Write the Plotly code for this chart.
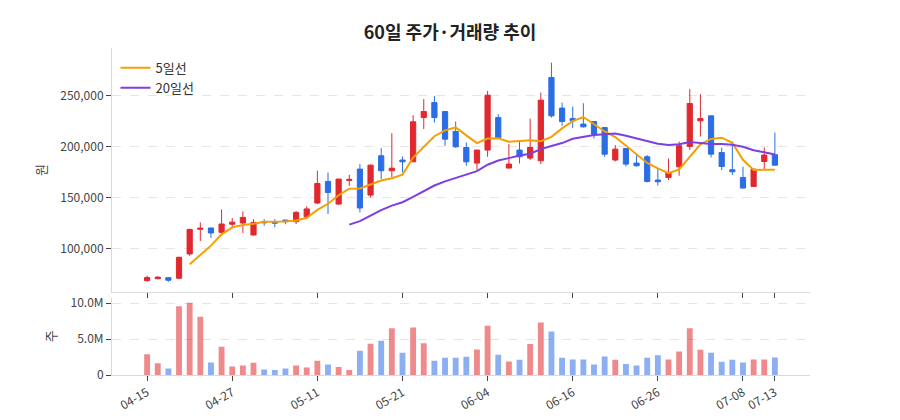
import plotly.graph_objects as go
import pandas as pd

dates = ["04-15","04-16","04-17","04-20","04-21","04-22","04-23","04-24","04-27","04-28",
         "04-29","04-30","05-04","05-06","05-07","05-08","05-11","05-12","05-13","05-14",
         "05-15","05-18","05-19","05-20","05-21","05-22","05-26","05-27","05-28","05-29",
         "06-01","06-02","06-04","06-05","06-08","06-09","06-10","06-11","06-12","06-15",
         "06-16","06-17","06-18","06-19","06-22","06-23","06-24","06-25","06-26","06-29",
         "06-30","07-01","07-02","07-03","07-06","07-07","07-08","07-09","07-10","07-13"]

open_ = [68600, 70500, 71500, 71000, 94800, 119000, 120300, 116000, 124000, 125200,
         113400, 126500, 126500, 128000, 126500, 131400, 144800, 166000, 143800, 167000,
         178100, 152600, 191200, 176500, 187000, 185300, 228700, 243400, 234600, 215000,
         199300, 184000, 196800, 228700, 179100, 196800, 188900, 186300, 268000, 238000,
         227700, 222300, 224800, 218900, 187000, 198300, 184000, 190200, 167400, 169900,
         180400, 200300, 225500, 230400, 194400, 177500, 169900, 161100, 185600, 192200]
high = [73500, 73000, 72000, 92000, 119500, 125800, 120500, 138500, 130000, 136600,
        129000, 129000, 129000, 128500, 137000, 141500, 176500, 174800, 168500, 172500,
        183000, 182500, 198700, 213400, 190500, 231000, 246800, 250000, 235000, 224800,
        204200, 197000, 254900, 232000, 202600, 204900, 227700, 253200, 282600, 243400,
        239500, 242800, 225000, 219000, 201700, 198500, 192800, 191900, 178100, 188500,
        205200, 256600, 251700, 230500, 199300, 205200, 180400, 178500, 199300, 214000]
low = [67600, 70000, 67500, 70000, 93000, 107500, 110500, 113000, 121000, 115400,
       113000, 122500, 121000, 124000, 124200, 129700, 143800, 134000, 143000, 161800,
       135600, 150300, 168300, 170000, 174800, 185000, 217400, 223800, 201000, 199000,
       181400, 177200, 190200, 208000, 179000, 183600, 187000, 183000, 228700, 220600,
       218300, 219000, 208100, 190200, 185600, 180700, 180500, 165000, 161800, 167400,
       171600, 197000, 210100, 189500, 177200, 172300, 159000, 160500, 178100, 181400]
close = [71600, 72000, 69000, 91500, 118900, 120000, 115400, 124200, 126000, 130700,
         125800, 125500, 125000, 126500, 135600, 139000, 164000, 155200, 168300, 168000,
         139900, 182000, 176500, 179000, 185300, 224500, 234600, 228700, 207500, 200000,
         185300, 196800, 250700, 209100, 183000, 190200, 199300, 245800, 230400, 224800,
         225500, 219600, 212400, 192800, 197700, 183000, 181400, 166000, 165700, 174800,
         201000, 242500, 227700, 192800, 180700, 175500, 159500, 178100, 191900, 182000]
volume = [2900000, 1630000, 890000, 9580000, 10080000, 8100000, 1730000, 3940000, 1170000, 1310000,
          1690000, 750000, 700000, 890000, 1310000, 1030000, 1970000, 1450000, 1120000, 700000,
          3380000, 4370000, 4790000, 6520000, 3100000, 6620000, 4410000, 1970000, 2390000, 2390000,
          2540000, 3560000, 6850000, 2820000, 1870000, 2110000, 4310000, 7320000, 6060000, 2390000,
          2150000, 2150000, 1450000, 2580000, 2110000, 1550000, 1310000, 2390000, 2760000, 2150000,
          3280000, 6520000, 3520000, 3100000, 1830000, 2110000, 1730000, 2150000, 2150000, 2440000]

tick_idx = [0, 8, 16, 24, 32, 40, 48, 56, 59]
tick_labels = [dates[i] for i in tick_idx]

UP = "#e0282e"
DOWN = "#2b6de5"
UP_V = "rgba(224,40,46,0.55)"
DOWN_V = "rgba(43,109,229,0.55)"

s = pd.Series(close)
ma5 = s.rolling(5).mean()
ma20 = s.rolling(20).mean()

fig = go.Figure()
fig.add_trace(go.Candlestick(
    x=dates, open=open_, high=high, low=low, close=close,
    increasing=dict(line=dict(color=UP, width=1), fillcolor=UP),
    decreasing=dict(line=dict(color=DOWN, width=1), fillcolor=DOWN),
    whiskerwidth=0, showlegend=False, xaxis="x", yaxis="y"))
fig.add_trace(go.Scatter(x=dates, y=ma5, mode="lines", name="5일선",
                         line=dict(color="#f59f00", width=2), xaxis="x", yaxis="y"))
fig.add_trace(go.Scatter(x=dates, y=ma20, mode="lines", name="20일선",
                         line=dict(color="#7b3fe4", width=2), xaxis="x", yaxis="y"))
vcolors = [UP_V if c >= o else DOWN_V for o, c in zip(open_, close)]
fig.add_trace(go.Bar(x=dates, y=volume, marker=dict(color=vcolors, line=dict(width=0)),
                     showlegend=False, xaxis="x2", yaxis="y2"))

font_family = "Noto Sans CJK KR, Noto Sans, sans-serif"
axis_common = dict(showline=True, linecolor="#d5d9e0", linewidth=1,
                   ticks="outside", tickcolor="#444", ticklen=5, automargin=False,
                   tickfont=dict(size=12, color="#444"))
xr = [-3.3, 62.3]
fig.update_layout(
    width=900, height=420,
    margin=dict(l=112, r=90, t=48, b=45),
    paper_bgcolor="white", plot_bgcolor="white",
    font=dict(family=font_family, color="#444"),
    title=dict(text="<b>60일 주가·거래량 추이</b>", x=0.5, xanchor="center",
               y=0.922, yanchor="middle", font=dict(size=18, color="#222")),
    showlegend=True,
    legend=dict(x=0.005, y=0.985, xanchor="left", yanchor="top",
                bgcolor="rgba(0,0,0,0)", font=dict(size=13, color="#333")),
    bargap=0.45,
    xaxis=dict(domain=[0, 1], anchor="y", type="category", range=xr,
               rangeslider=dict(visible=False), tickvals=[dates[i] for i in tick_idx],
               ticktext=tick_labels, showticklabels=False, showgrid=False, **axis_common),
    yaxis=dict(domain=[0.254, 1], anchor="x", range=[57500, 297000],
               tickvals=[100000, 150000, 200000, 250000], tickformat=",",
               showgrid=True, gridcolor="#e6e6e6", griddash="dash", zeroline=False,
               title=dict(text="원", font=dict(size=13, color="#444"), standoff=10),
               **axis_common),
    xaxis2=dict(domain=[0, 1], anchor="y2", type="category", range=xr,
                tickvals=[dates[i] for i in tick_idx], ticktext=tick_labels,
                tickangle=-30, showgrid=False, **axis_common),
    yaxis2=dict(domain=[0, 0.237], anchor="x2", range=[0, 10800000],
                tickvals=[0, 5000000, 10000000], ticktext=["0", "5.0M", "10.0M"],
                showgrid=True, gridcolor="#e6e6e6", griddash="dash", zeroline=False,
                title=dict(text="주", font=dict(size=13, color="#444"), standoff=10),
                **axis_common),
)
fig.write_html("out.html")
